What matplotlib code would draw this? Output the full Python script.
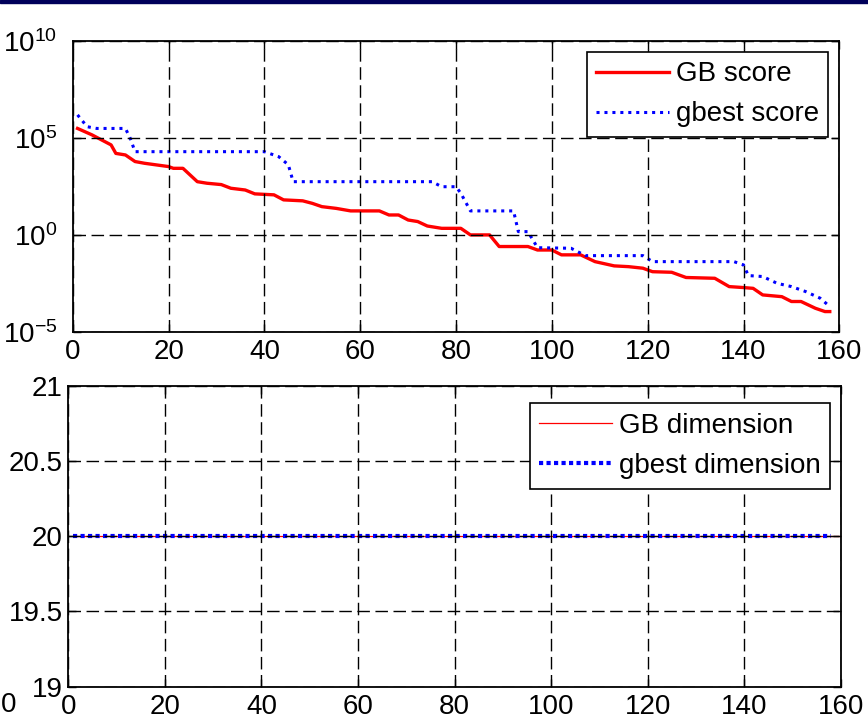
import matplotlib
matplotlib.use("Agg")
import matplotlib.pyplot as plt
from matplotlib.ticker import FixedLocator, NullLocator, FormatStrFormatter
from matplotlib.patches import Rectangle

plt.rcParams['font.family'] = ['Liberation Sans', 'DejaVu Sans']
plt.rcParams['font.size'] = 20

# wynik GB (log10 wartosci)
gb_iter = [1, 4, 8, 9, 11, 13, 15, 20, 21, 23, 26, 28, 31, 33, 36, 38, 42, 44, 48, 50,
           52, 55, 58, 64, 66, 68, 70, 72, 74, 77, 81, 83, 87, 89, 95, 97, 100, 102, 106, 109,
           113, 116, 119, 121, 125, 128, 134, 137, 140, 142, 144, 148, 150, 152, 155, 157, 158]
gb_log = [5.5, 5.17, 4.65, 4.21, 4.13, 3.79, 3.70, 3.53, 3.44, 3.44, 2.75, 2.67, 2.6, 2.41, 2.32,
          2.12, 2.07, 1.81, 1.76, 1.63, 1.46, 1.37, 1.24, 1.24, 1.03, 1.03, 0.77, 0.69, 0.46, 0.34,
          0.34, 0.0, 0.0, -0.6, -0.6, -0.78, -0.78, -1.03, -1.03, -1.38, -1.6, -1.64, -1.72, -1.9,
          -1.93, -2.2, -2.24, -2.67, -2.72, -2.76, -3.1, -3.19, -3.44, -3.44, -3.79, -3.96, -3.96]

# wynik gbest
gbest_iter = [1, 3, 5, 11, 12, 13, 40, 43, 45, 46, 75, 77, 80, 81, 83, 92, 93, 95, 97, 104,
              107, 119, 121, 138, 140, 141, 144, 147, 150, 153, 156, 158]
gbest_log = [6.2, 5.59, 5.5, 5.5, 4.99, 4.30, 4.30, 4.04, 3.62, 2.75, 2.75, 2.49, 2.49, 2.15,
             1.24, 1.24, 0.17, 0.17, -0.66, -0.69, -1.07, -1.07, -1.38, -1.38, -1.55, -2.1,
             -2.15, -2.5, -2.67, -2.93, -3.27, -3.7]

# wymiar
gb_dim_iter = [1, 160]
gb_dim = [20, 20]
gbest_dim_iter = [1, 158]
gbest_dim = [20, 20]

x_ticks = [0, 20, 40, 60, 80, 100, 120, 140, 160]
score_ticks = [1e-5, 1e0, 1e5, 1e10]
dim_ticks = [19, 19.5, 20, 20.5, 21]

grid_style = dict(color='black', linestyle=(0, (9, 4)), linewidth=1.0)


def style_axes(ax, ypad):
    ax.tick_params(direction='in', length=6, width=1, top=True, right=True, labelsize=20)
    ax.tick_params(axis='x', pad=5)
    ax.tick_params(axis='y', pad=ypad)
    for s in ax.spines.values():
        s.set_linewidth(1.3)
    ax.grid(True, **grid_style)
    ax.set_axisbelow(False)


def add_legend(ax, anchor):
    leg = ax.legend(loc='upper right', bbox_to_anchor=anchor, borderaxespad=0,
                    fancybox=False, framealpha=1, edgecolor='black', handlelength=2.6,
                    handletextpad=0.25, labelspacing=0.5, borderpad=0.35, fontsize=20)
    leg.get_frame().set_linewidth(1.2)
    return leg


fig = plt.figure(figsize=(8.68, 7.2), dpi=100)

# wykres wyniku
ax1 = fig.add_axes([0.0838, 0.5393, 0.8832, 0.4033])
ax1.semilogy(gb_iter, [10 ** v for v in gb_log], color='red', linewidth=2.4, label='GB score')
ax1.semilogy(gbest_iter, [10 ** v for v in gbest_log], color='blue', linewidth=2.2,
             linestyle=(0, (1, 1.6)), label='gbest score')
ax1.set_xlim(0, 160)
ax1.set_ylim(1e-5, 1e10)
ax1.xaxis.set_major_locator(FixedLocator(x_ticks))
ax1.yaxis.set_major_locator(FixedLocator(score_ticks))
ax1.yaxis.set_minor_locator(NullLocator())
style_axes(ax1, 11)
add_legend(ax1, (0.9857, 0.9642))

# wykres wymiaru
ax2 = fig.add_axes([0.0787, 0.0463, 0.8899, 0.4176])
ax2.plot(gb_dim_iter, gb_dim, color='red', linewidth=0.9, label='GB dimension')
ax2.plot(gbest_dim_iter, gbest_dim, color='blue', linewidth=3.0,
         linestyle=(0, (1, 0.8)), label='gbest dimension')
ax2.set_xlim(0, 160)
ax2.set_ylim(19, 21)
ax2.xaxis.set_major_locator(FixedLocator(x_ticks))
ax2.yaxis.set_major_locator(FixedLocator(dim_ticks))
ax2.yaxis.set_major_formatter(FormatStrFormatter('%g'))
style_axes(ax2, 4)
add_legend(ax2, (0.9861, 0.9425))

# pasek u gory i znak z lewej
fig.add_artist(Rectangle((0, 0.9965), 1, 0.0035, transform=fig.transFigure,
                         color='#00005a', zorder=10))
fig.text(0.001, 0.021, '0', fontsize=20, ha='left', va='center')

fig.savefig('out.png', dpi=100)
